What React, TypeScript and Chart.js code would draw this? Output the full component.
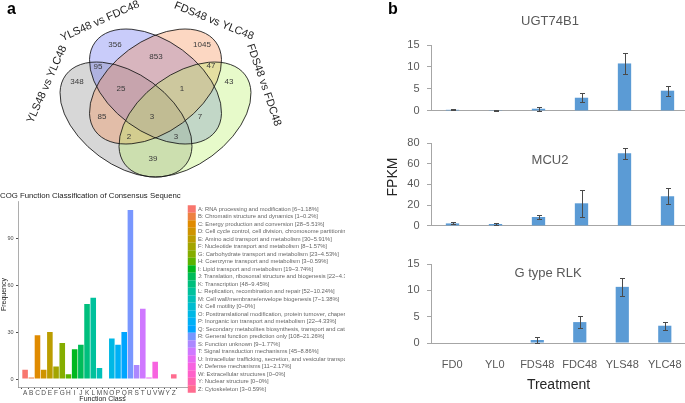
import React, { useEffect, useRef } from 'react';
import { Chart, registerables } from 'chart.js';

Chart.register(...registerables);

const FONT = "'Liberation Sans', Arial, Helvetica, sans-serif";

// ---------------- Panel a: Venn diagram ----------------
const vennSetNames = ['YLS48 vs YLC48', 'YLS48 vs FDC48', 'FDS48 vs YLC48', 'FDS48 vs FDC48'];
const vennCounts = [348, 356, 1045, 43, 95, 853, 47, 25, 1, 85, 3, 7, 2, 3, 39];
// label positions (layout, unit coordinates)
const vennCountX = [0.153, 0.324, 0.716, 0.838, 0.248, 0.509, 0.757, 0.351, 0.626, 0.266, 0.491, 0.707, 0.387, 0.599, 0.495];
const vennCountY = [0.611, 0.777, 0.777, 0.611, 0.678, 0.723, 0.683, 0.579, 0.579, 0.453, 0.453, 0.453, 0.363, 0.363, 0.264];
// ellipse geometry (layout)
const vennCenterX = [0.3739, 0.5068, 0.5068, 0.6396];
const vennCenterY = [0.4416, 0.5903, 0.5903, 0.4416];
const vennRotation = [36.4, 36.4, -36.4, -36.4];
const vennSemiA = 0.3374;
const vennSemiB = 0.2041;
const vennFill = ['rgba(150,150,150,0.38)', 'rgba(100,110,240,0.35)', 'rgba(245,140,80,0.35)', 'rgba(180,240,90,0.32)'];
const vennNameX = [0.018, 0.257, 0.77, 0.995];
const vennNameY = [0.6, 0.885, 0.885, 0.597];
const vennNameRot = [-66, -24, 22, 71];

// ---------------- Panel a: COG classification ----------------
const cogCodes = ['A', 'B', 'C', 'D', 'E', 'F', 'G', 'H', 'I', 'J', 'K', 'L', 'M', 'N', 'O', 'P', 'Q', 'R', 'S', 'T', 'U', 'V', 'W', 'Y', 'Z'];
const cogNames = [
  'RNA processing and modification',
  'Chromatin structure and dynamics',
  'Energy production and conversion',
  'Cell cycle control, cell division, chromosome partitioning',
  'Amino acid transport and metabolism',
  'Nucleotide transport and metabolism',
  'Carbohydrate transport and metabolism',
  'Coenzyme transport and metabolism',
  'Lipid transport and metabolism',
  'Translation, ribosomal structure and biogenesis',
  'Transcription',
  'Replication, recombination and repair',
  'Cell wall/membrane/envelope biogenesis',
  'Cell motility',
  'Posttranslational modification, protein turnover, chaperones',
  'Inorganic ion transport and metabolism',
  'Secondary metabolites biosynthesis, transport and catabolism',
  'General function prediction only',
  'Function unknown',
  'Signal transduction mechanisms',
  'Intracellular trafficking, secretion, and vesicular transport',
  'Defense mechanisms',
  'Extracellular structures',
  'Nuclear structure',
  'Cytoskeleton',
];
const cogCounts = [6, 1, 28, 6, 30, 8, 23, 3, 19, 22, 48, 52, 7, 0, 26, 22, 30, 108, 9, 45, 1, 11, 0, 0, 3];
const cogYTicks = [0, 30, 60, 90];

// ---------------- Panel b: expression ----------------
const treatments = ['FD0', 'YL0', 'FDS48', 'FDC48', 'YLS48', 'YLC48'];
const ugtMean = [0.25, 0.05, 0.5, 3.0, 10.8, 4.6];
const ugtErr = [0.1, 0.05, 0.45, 1.0, 2.3, 1.15];
const mcuMean = [2.4, 1.8, 8.6, 21.8, 70.2, 28.6];
const mcuErr = [1.0, 1.3, 2.2, 12.8, 5.4, 7.8];
const rlkMean = [0, 0, 0.57, 3.97, 10.66, 3.28];
const rlkErr = [0, 0, 0.56, 1.2, 1.65, 0.78];

// ggplot-like HCL hue palette
function hcl(h: number, c = 100, l = 65): string {
  const hr = (h * Math.PI) / 180;
  const u = c * Math.cos(hr);
  const v = c * Math.sin(hr);
  const Xn = 95.047, Yn = 100, Zn = 108.883;
  const den = Xn + 15 * Yn + 3 * Zn;
  const un = (4 * Xn) / den, vn = (9 * Yn) / den;
  const Y = l > 8 ? Yn * Math.pow((l + 16) / 116, 3) : (Yn * l) / 903.3;
  const up = u / (13 * l) + un;
  const vp = v / (13 * l) + vn;
  const X = (9 * Y * up) / (4 * vp);
  const Z = (Y * (12 - 3 * up - 20 * vp)) / (4 * vp);
  const x = X / 100, y = Y / 100, z = Z / 100;
  const r = 3.2406 * x - 1.5372 * y - 0.4986 * z;
  const g = -0.9689 * x + 1.8758 * y + 0.0415 * z;
  const b = 0.0557 * x - 0.204 * y + 1.057 * z;
  const gam = (t: number) => {
    const s = t <= 0.0031308 ? 12.92 * t : 1.055 * Math.pow(t, 1 / 2.4) - 0.055;
    return Math.round(255 * Math.min(1, Math.max(0, s)));
  };
  return `rgb(${gam(r)},${gam(g)},${gam(b)})`;
}
const cogColors = cogCodes.map((_, i) => hcl(15 + (i * 360) / cogCodes.length));

function fmtPct(v: number) {
  return String(Number(v.toFixed(2)));
}

function textPlugin(id: string, items: any[]) {
  return {
    id,
    afterDraw(chart: any) {
      const ctx = chart.ctx;
      items.forEach((it) => {
        ctx.save();
        ctx.font = `${it.weight || 'normal'} ${it.size}px ${FONT}`;
        ctx.fillStyle = it.color || '#000';
        ctx.textAlign = it.align || 'center';
        ctx.textBaseline = 'middle';
        ctx.translate(it.x, it.y);
        if (it.rot) ctx.rotate((it.rot * Math.PI) / 180);
        ctx.fillText(it.text, 0, 0);
        ctx.restore();
      });
    },
  };
}

const vennPlugin = {
  id: 'vennDraw',
  beforeDatasetsDraw(chart: any) {
    const { ctx } = chart;
    const xs = chart.scales.x;
    const ys = chart.scales.y;
    const pu = Math.abs(xs.getPixelForValue(1) - xs.getPixelForValue(0));
    const pv = Math.abs(ys.getPixelForValue(1) - ys.getPixelForValue(0));
    ctx.save();
    const path = (i: number) => {
      ctx.beginPath();
      ctx.ellipse(
        xs.getPixelForValue(vennCenterX[i]),
        ys.getPixelForValue(vennCenterY[i]),
        vennSemiA * pu,
        vennSemiB * pv,
        (vennRotation[i] * Math.PI) / 180,
        0,
        Math.PI * 2
      );
    };
    for (let i = 0; i < 4; i++) {
      path(i);
      ctx.fillStyle = vennFill[i];
      ctx.fill();
    }
    ctx.strokeStyle = 'rgba(20,20,20,0.85)';
    ctx.lineWidth = 1;
    for (let i = 0; i < 4; i++) {
      path(i);
      ctx.stroke();
    }
    ctx.restore();
  },
  afterDatasetsDraw(chart: any) {
    const { ctx } = chart;
    const xs = chart.scales.x;
    const ys = chart.scales.y;
    const meta = chart.getDatasetMeta(0);
    ctx.save();
    ctx.textAlign = 'center';
    ctx.textBaseline = 'middle';
    ctx.fillStyle = '#3a3a3a';
    ctx.font = `8px ${FONT}`;
    meta.data.forEach((pt: any, i: number) => {
      ctx.fillText(String(vennCounts[i]), pt.x, pt.y);
    });
    ctx.fillStyle = '#1e1e1e';
    ctx.font = `11px ${FONT}`;
    vennSetNames.forEach((name, i) => {
      ctx.save();
      ctx.translate(xs.getPixelForValue(vennNameX[i]), ys.getPixelForValue(vennNameY[i]));
      ctx.rotate((vennNameRot[i] * Math.PI) / 180);
      ctx.fillText(name, 0, 0);
      ctx.restore();
    });
    ctx.restore();
  },
};

function vennConfig(): any {
  return {
    type: 'scatter',
    data: {
      datasets: [
        {
          data: vennCounts.map((_, i) => ({ x: vennCountX[i], y: vennCountY[i] })),
          pointRadius: 0,
          pointHoverRadius: 0,
        },
      ],
    },
    options: {
      animation: false,
      responsive: true,
      maintainAspectRatio: false,
      events: [],
      layout: { padding: 0 },
      plugins: { legend: { display: false }, tooltip: { enabled: false } },
      scales: {
        x: { type: 'linear', display: false, min: -0.19369, max: 1.36036 },
        y: { type: 'linear', display: false, min: 0.16919, max: 0.98 },
      },
    },
    plugins: [
      vennPlugin,
      textPlugin('letterA', [{ text: 'a', x: 7, y: 10, size: 16, weight: 'bold', align: 'left', color: '#000' }]),
    ],
  };
}

function cogConfig(): any {
  const total = cogCounts.reduce((a, b) => a + b, 0);
  return {
    type: 'bar',
    data: {
      datasets: [
        {
          data: cogCounts.map((c, i) => ({ x: i + 1, y: c })),
          backgroundColor: cogColors,
          borderWidth: 0,
          barPercentage: 0.9,
          categoryPercentage: 1,
        },
      ],
    },
    options: {
      animation: false,
      responsive: true,
      maintainAspectRatio: false,
      events: [],
      layout: { padding: 0 },
      plugins: {
        tooltip: { enabled: false },
        title: {
          display: true,
          text: 'COG Function Classification of Consensus Sequenc',
          align: 'start',
          color: '#1a1a1a',
          font: { size: 7.8, family: FONT, weight: 'normal' },
          padding: { top: 4.3, bottom: 1 },
        },
        legend: {
          display: true,
          position: 'right',
          align: 'start',
          maxWidth: 158,
          title: { display: true, text: '', font: { size: 10 }, padding: { top: 5.5, bottom: 0 } },
          labels: {
            boxWidth: 6.5,
            boxHeight: 6,
            padding: 1.5,
            color: '#333',
            font: { size: 5.8, family: FONT },
            generateLabels: () =>
              cogCodes.map((code, i) => ({
                text: `${code}: ${cogNames[i]} [${cogCounts[i]}~${fmtPct((cogCounts[i] / total) * 100)}%]`,
                fillStyle: cogColors[i],
                strokeStyle: cogColors[i],
                lineWidth: 1.5,
                hidden: false,
                textAlign: 'left',
                index: i,
              })),
          },
        },
      },
      scales: {
        x: {
          type: 'linear',
          min: 0.4,
          max: 26.59,
          afterBuildTicks: (s: any) => {
            s.ticks = cogCodes.map((_, i) => ({ value: i + 1 }));
          },
          afterFit: (s: any) => {
            s.height = 15.5;
          },
          ticks: {
            autoSkip: false,
            maxRotation: 0,
            padding: 0,
            color: '#4d4d4d',
            font: { size: 6.5, family: FONT },
            callback: (v: any) => cogCodes[Math.round(v) - 1] ?? '',
          },
          grid: { display: true, drawOnChartArea: false, tickLength: 1.5, color: '#4d4d4d' },
          border: { display: true, color: '#8a8a8a', width: 0.7 },
          title: {
            display: true,
            text: 'Function Class',
            color: '#1a1a1a',
            font: { size: 7, family: FONT },
            padding: { top: 0, bottom: 0 },
          },
        },
        y: {
          min: -5.4,
          max: 113.4,
          afterBuildTicks: (s: any) => {
            s.ticks = cogYTicks.map((v) => ({ value: v }));
          },
          afterFit: (s: any) => {
            s.width = 18;
          },
          ticks: { padding: 2.5, color: '#4d4d4d', font: { size: 5.5, family: FONT } },
          grid: { display: true, drawOnChartArea: false, tickLength: 2, color: '#4d4d4d' },
          border: { display: true, color: '#8a8a8a', width: 0.7 },
          title: {
            display: true,
            text: 'Frequency',
            color: '#1a1a1a',
            font: { size: 7, family: FONT },
            padding: { top: 0, bottom: 0 },
          },
        },
      },
    },
  };
}

const errorBarPlugin = {
  id: 'errorBars',
  afterDatasetsDraw(chart: any) {
    const ds = chart.data.datasets[0];
    const meta = chart.getDatasetMeta(0);
    const ys = chart.scales.y;
    const ctx = chart.ctx;
    ctx.save();
    ctx.strokeStyle = '#4a4a4a';
    ctx.lineWidth = 1;
    meta.data.forEach((bar: any, i: number) => {
      const e = ds.errors[i];
      if (!e) return;
      const m = ds.data[i];
      const top = Math.round(ys.getPixelForValue(m + e)) + 0.5;
      const bot = Math.round(ys.getPixelForValue(Math.max(0, m - e))) + 0.5;
      const x = Math.round(bar.x) + 0.5;
      ctx.beginPath();
      ctx.moveTo(x, top);
      ctx.lineTo(x, bot);
      ctx.moveTo(x - 2.5, top);
      ctx.lineTo(x + 2.5, top);
      ctx.moveTo(x - 2.5, bot);
      ctx.lineTo(x + 2.5, bot);
      ctx.stroke();
    });
    ctx.restore();
  },
};

function barConfig(
  name: string,
  means: number[],
  errs: number[],
  yMax: number,
  step: number,
  padTop: number,
  bottomH: number,
  showX: boolean,
  texts: any[]
): any {
  return {
    type: 'bar',
    data: {
      labels: treatments,
      datasets: [
        {
          data: means,
          errors: errs,
          backgroundColor: '#5B9BD5',
          borderWidth: 0,
          barPercentage: 0.31,
          categoryPercentage: 1,
        },
      ],
    },
    options: {
      animation: false,
      responsive: true,
      maintainAspectRatio: false,
      events: [],
      layout: { padding: { top: padTop, left: 0, right: 0, bottom: 0 } },
      plugins: { legend: { display: false }, tooltip: { enabled: false } },
      scales: {
        x: {
          grid: { display: false },
          border: { display: true, color: '#A6A6A6' },
          ticks: {
            display: showX,
            autoSkip: false,
            maxRotation: 0,
            padding: 7.4,
            color: '#595959',
            font: { size: 11, family: FONT },
          },
          title: {
            display: showX,
            text: 'Treatment',
            color: '#262626',
            font: { size: 14, family: FONT },
            padding: { top: 0, bottom: 9.6 },
          },
          afterFit: (s: any) => {
            s.height = bottomH;
          },
        },
        y: {
          min: 0,
          max: yMax,
          ticks: { stepSize: step, padding: 7.5, color: '#595959', font: { size: 11, family: FONT } },
          grid: { display: true, drawOnChartArea: false, tickLength: 4, color: '#A6A6A6' },
          border: { display: true, color: '#A6A6A6' },
          afterFit: (s: any) => {
            s.width = 61;
          },
        },
      },
    },
    plugins: [errorBarPlugin, textPlugin(name, texts)],
  };
}

export default function App() {
  const vennRef = useRef<HTMLCanvasElement>(null);
  const cogRef = useRef<HTMLCanvasElement>(null);
  const ugtRef = useRef<HTMLCanvasElement>(null);
  const mcuRef = useRef<HTMLCanvasElement>(null);
  const rlkRef = useRef<HTMLCanvasElement>(null);

  useEffect(() => {
    const charts: Chart[] = [];
    charts.push(new Chart(vennRef.current as HTMLCanvasElement, vennConfig()));
    charts.push(new Chart(cogRef.current as HTMLCanvasElement, cogConfig()));
    charts.push(
      new Chart(
        ugtRef.current as HTMLCanvasElement,
        barConfig('ugtText', ugtMean, ugtErr, 15, 5, 45, 6, false, [
          { text: 'b', x: 18, y: 10, size: 16, weight: 'bold', align: 'left', color: '#000' },
          { text: 'UGT74B1', x: 180, y: 21, size: 13, color: '#595959' },
        ])
      )
    );
    charts.push(
      new Chart(
        mcuRef.current as HTMLCanvasElement,
        barConfig('mcuText', mcuMean, mcuErr, 80, 20, 15, 6, false, [
          { text: 'MCU2', x: 180, y: 32, size: 13, color: '#595959' },
          { text: 'FPKM', x: 23, y: 49, size: 14, color: '#262626', rot: -90 },
        ])
      )
    );
    charts.push(
      new Chart(
        rlkRef.current as HTMLCanvasElement,
        barConfig('rlkText', rlkMean, rlkErr, 15, 5, 19, 60, true, [
          { text: 'G type RLK', x: 178, y: 28, size: 13, color: '#595959' },
        ])
      )
    );
    return () => charts.forEach((c) => c.destroy());
  }, []);

  const box = (left: number, top: number, width: number, height: number): React.CSSProperties => ({
    position: 'absolute',
    left,
    top,
    width,
    height,
  });

  return (
    <div
      style={{
        position: 'fixed',
        left: 0,
        top: 0,
        width: 685,
        height: 403,
        overflow: 'hidden',
        background: '#ffffff',
      }}
    >
      <div style={box(0, 0, 345, 180)}>
        <canvas ref={vennRef} />
      </div>
      <div style={box(0, 187, 345, 216)}>
        <canvas ref={cogRef} />
      </div>
      <div style={box(370, 0, 319, 125)}>
        <canvas ref={ugtRef} />
      </div>
      <div style={box(370, 128, 319, 112)}>
        <canvas ref={mcuRef} />
      </div>
      <div style={box(370, 245, 319, 158)}>
        <canvas ref={rlkRef} />
      </div>
    </div>
  );
}
